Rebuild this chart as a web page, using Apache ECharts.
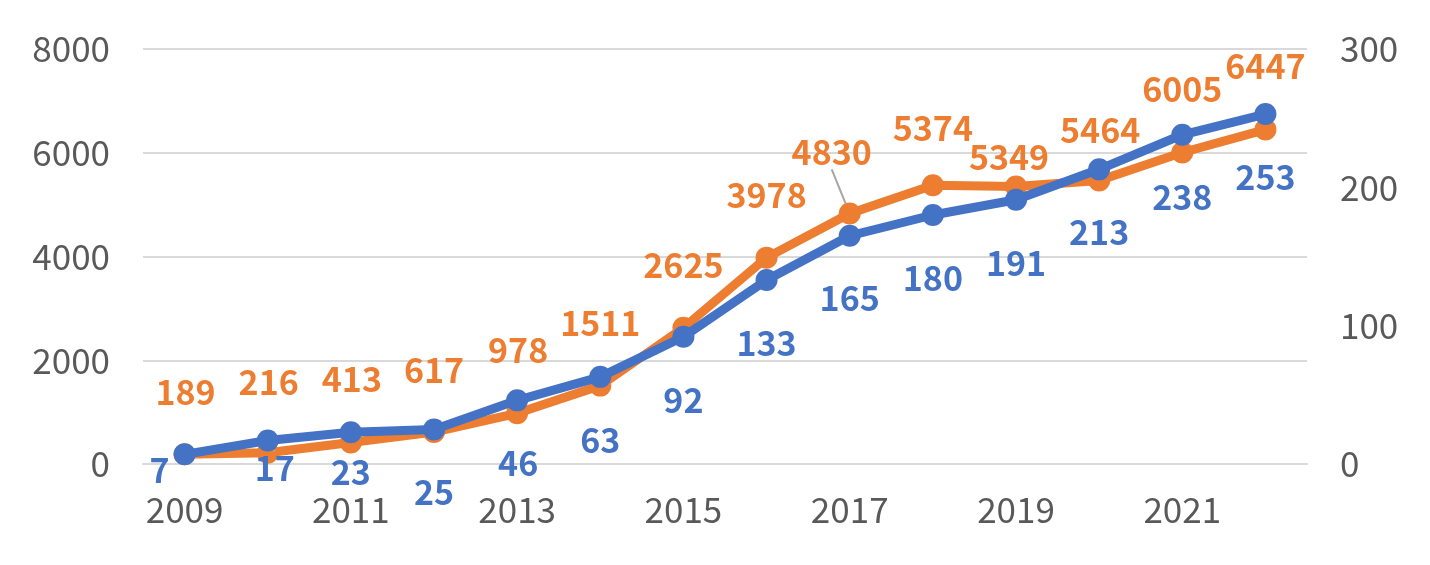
<!DOCTYPE html>
<html>
<head>
<meta charset="utf-8">
<script src="https://cdn.jsdelivr.net/npm/echarts@6/dist/echarts.min.js"></script>
<style>html,body{margin:0;padding:0;background:#fff}#c{width:1430px;height:565px}</style>
</head>
<body>
<div id="c"></div>
<script>
const categories = ['2009','2010','2011','2012','2013','2014','2015','2016','2017','2018','2019','2020','2021','2022'];
const orangeValues = [189, 216, 413, 617, 978, 1511, 2625, 3978, 4830, 5374, 5349, 5464, 6005, 6447];
const blueValues = [7, 17, 23, 25, 46, 63, 92, 133, 165, 180, 191, 213, 238, 253];
const leftTicks = {min: 0, max: 8000, interval: 2000};
const rightTicks = {min: 0, max: 300, interval: 100};

// label offsets (presentation only)
const orangeOffsets = [[1,-62],[1,-71],[1,-63],[0,-62],[1,-63],[0,-63],[0,-63],[0,-63],[-18,-61],[0,-57],[-7,-29],[1,-50],[0,-63],[0,-63]];
const blueOffsets = [[-25,16],[7,28],[0,40],[0,63],[1,63],[0,63],[0,63],[0,63],[0,62],[0,63],[0,63],[0,63],[0,62],[0,63]];
const orangeLeader = [8];
const blueLeader = [1];

const ORANGE = '#ED7D31', BLUE = '#4472C4', GRAY = '#595959';
const FONT = '"Noto Sans CJK JP", "Noto Sans", sans-serif';

function build(values, leaders) {
  return values.map((v, i) => leaders.includes(i)
    ? {value: v, labelLine: {show: true, lineStyle: {color: '#a6a6a6', width: 2}}}
    : {value: v});
}
function layoutFn(offsets) {
  return function (p) {
    const o = offsets[p.dataIndex];
    return {dx: o[0], dy: o[1]};
  };
}

const chart = echarts.init(document.getElementById('c'), null, {renderer: 'canvas'});
chart.setOption({
  animation: false,
  grid: {left: 143, right: 123, top: 49, bottom: 101},
  xAxis: {
    type: 'category',
    data: categories,
    boundaryGap: true,
    axisTick: {show: false},
    axisLine: {lineStyle: {color: '#d9d9d9', width: 2}},
    axisLabel: {interval: 1, color: GRAY, fontSize: 35, fontFamily: FONT, margin: 28}
  },
  yAxis: [
    {
      type: 'value', min: leftTicks.min, max: leftTicks.max, interval: leftTicks.interval,
      axisLine: {show: false}, axisTick: {show: false},
      splitLine: {lineStyle: {color: '#d9d9d9', width: 2}},
      axisLabel: {color: GRAY, fontSize: 35, fontFamily: FONT, margin: 33, formatter: v => String(v)}
    },
    {
      type: 'value', min: rightTicks.min, max: rightTicks.max, interval: rightTicks.interval,
      axisLine: {show: false}, axisTick: {show: false},
      splitLine: {show: false},
      axisLabel: {color: GRAY, fontSize: 35, fontFamily: FONT, margin: 33, formatter: v => String(v)}
    }
  ],
  series: [
    {
      type: 'line', yAxisIndex: 0, data: build(orangeValues, orangeLeader),
      symbol: 'circle', symbolSize: 22,
      lineStyle: {color: ORANGE, width: 9},
      itemStyle: {color: ORANGE},
      label: {show: true, position: 'inside', color: ORANGE, fontSize: 34, fontWeight: 'bold', fontFamily: FONT},
      labelLayout: layoutFn(orangeOffsets),
      z: 2
    },
    {
      type: 'line', yAxisIndex: 1, data: build(blueValues, blueLeader),
      symbol: 'circle', symbolSize: 22,
      lineStyle: {color: BLUE, width: 9},
      itemStyle: {color: BLUE},
      label: {show: true, position: 'inside', color: BLUE, fontSize: 34, fontWeight: 'bold', fontFamily: FONT},
      labelLayout: layoutFn(blueOffsets),
      z: 3
    }
  ]
});
</script>
</body>
</html>
